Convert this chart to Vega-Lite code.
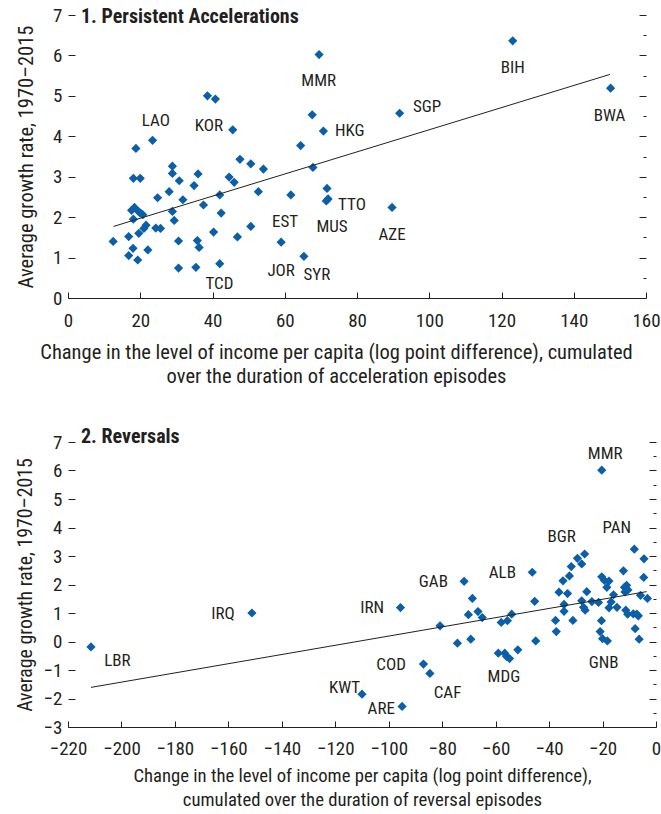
{
  "$schema": "https://vega.github.io/schema/vega-lite/v6.json",
  "background": "white",
  "padding": {"left": 15, "top": 6, "right": 2, "bottom": 2},
  "spacing": 40,
  "config": {
    "font": "Roboto Condensed, DejaVu Sans Condensed, Liberation Sans, sans-serif",
    "view": {"stroke": null},
    "axis": {
      "labelFont": "Roboto Condensed, DejaVu Sans Condensed, Liberation Sans, sans-serif",
      "titleFont": "Roboto Condensed, DejaVu Sans Condensed, Liberation Sans, sans-serif",
      "labelFontSize": 19,
      "titleFontSize": 18,
      "labelColor": "#231f20",
      "titleColor": "#231f20",
      "titleFontWeight": "normal",
      "tickColor": "#231f20",
      "domainColor": "#231f20",
      "grid": false
    },
    "title": {"font": "Roboto Condensed, DejaVu Sans Condensed, Liberation Sans, sans-serif", "fontSize": 20, "fontWeight": "bold", "color": "#231f20", "anchor": "start", "frame": "group"}
  },
  "datasets": {
    "acc": [
      {"x": 12.5, "y": 1.40}, {"x": 16.8, "y": 1.52}, {"x": 16.8, "y": 1.05}, {"x": 18.0, "y": 1.23}, {"x": 19.3, "y": 0.94},
      {"x": 18.8, "y": 3.70}, {"x": 18.1, "y": 2.96}, {"x": 20.0, "y": 2.96}, {"x": 23.4, "y": 3.90}, {"x": 17.6, "y": 2.17},
      {"x": 18.4, "y": 2.24}, {"x": 19.5, "y": 2.14}, {"x": 18.1, "y": 1.95}, {"x": 20.0, "y": 2.10}, {"x": 20.7, "y": 2.06},
      {"x": 19.6, "y": 1.60}, {"x": 21.0, "y": 1.72}, {"x": 21.6, "y": 1.80}, {"x": 22.1, "y": 1.19}, {"x": 24.3, "y": 1.73},
      {"x": 25.6, "y": 1.72}, {"x": 24.8, "y": 2.48}, {"x": 28.0, "y": 2.63}, {"x": 28.9, "y": 3.26}, {"x": 28.9, "y": 3.08},
      {"x": 28.9, "y": 2.14}, {"x": 29.4, "y": 1.92}, {"x": 30.8, "y": 2.90}, {"x": 30.6, "y": 1.41}, {"x": 30.6, "y": 0.74},
      {"x": 31.8, "y": 2.43}, {"x": 34.9, "y": 2.78}, {"x": 36.0, "y": 3.07}, {"x": 35.8, "y": 1.42}, {"x": 36.3, "y": 1.25},
      {"x": 35.4, "y": 0.76}, {"x": 37.5, "y": 2.30}, {"x": 38.6, "y": 5.00}, {"x": 40.8, "y": 4.92}, {"x": 40.3, "y": 1.63},
      {"x": 42.0, "y": 2.55}, {"x": 42.4, "y": 2.10}, {"x": 42.0, "y": 0.85}, {"x": 44.6, "y": 2.99}, {"x": 46.0, "y": 2.86},
      {"x": 45.6, "y": 4.16}, {"x": 46.9, "y": 1.51}, {"x": 47.6, "y": 3.43}, {"x": 50.6, "y": 3.32}, {"x": 50.6, "y": 1.77},
      {"x": 52.7, "y": 2.63}, {"x": 54.1, "y": 3.19}, {"x": 59.0, "y": 1.38}, {"x": 61.7, "y": 2.55}, {"x": 64.4, "y": 3.77},
      {"x": 65.3, "y": 1.03}, {"x": 67.6, "y": 4.53}, {"x": 67.8, "y": 3.23}, {"x": 69.5, "y": 6.02}, {"x": 70.7, "y": 4.13},
      {"x": 71.7, "y": 2.71}, {"x": 71.5, "y": 2.40}, {"x": 72.0, "y": 2.45}, {"x": 89.7, "y": 2.24}, {"x": 91.8, "y": 4.57},
      {"x": 123.1, "y": 6.36}, {"x": 150.2, "y": 5.19}
    ],
    "accLine": [{"x": 12.6, "y": 1.77}, {"x": 150.0, "y": 5.53}],
    "accLab": [
      {"label": "LAO", "x": 24.3, "y": 4.38}, {"label": "KOR", "x": 39.0, "y": 4.25}, {"label": "MMR", "x": 69.4, "y": 5.36},
      {"label": "HKG", "x": 78.0, "y": 4.14}, {"label": "SGP", "x": 99.4, "y": 4.73}, {"label": "BIH", "x": 123.1, "y": 5.68},
      {"label": "BWA", "x": 149.9, "y": 4.51}, {"label": "TTO", "x": 78.6, "y": 2.30}, {"label": "MUS", "x": 73.1, "y": 1.75},
      {"label": "AZE", "x": 89.7, "y": 1.55}, {"label": "EST", "x": 60.1, "y": 1.88}, {"label": "JOR", "x": 59.0, "y": 0.67},
      {"label": "SYR", "x": 68.9, "y": 0.57}, {"label": "TCD", "x": 41.9, "y": 0.35}
    ],
    "rev": [
      {"x": -211.4, "y": -0.19}, {"x": -151.2, "y": 1.00}, {"x": -95.6, "y": 1.19}, {"x": -110.0, "y": -1.85}, {"x": -95.0, "y": -2.28},
      {"x": -87.0, "y": -0.79}, {"x": -84.6, "y": -1.12}, {"x": -80.8, "y": 0.55}, {"x": -74.3, "y": -0.06}, {"x": -71.8, "y": 2.11},
      {"x": -68.7, "y": 1.51}, {"x": -70.2, "y": 0.94}, {"x": -69.3, "y": 0.08}, {"x": -66.6, "y": 1.05}, {"x": -65.0, "y": 0.84},
      {"x": -57.9, "y": 0.67}, {"x": -55.6, "y": 0.73}, {"x": -54.0, "y": 0.96}, {"x": -59.0, "y": -0.41}, {"x": -56.6, "y": -0.41},
      {"x": -55.9, "y": -0.53}, {"x": -54.8, "y": -0.60}, {"x": -51.7, "y": -0.29}, {"x": -46.3, "y": 2.43}, {"x": -45.4, "y": 1.41},
      {"x": -45.0, "y": 0.02}, {"x": -37.6, "y": 0.74}, {"x": -37.3, "y": 0.35}, {"x": -36.3, "y": 1.73}, {"x": -34.8, "y": 2.13},
      {"x": -34.4, "y": 1.30}, {"x": -34.4, "y": 1.06}, {"x": -33.1, "y": 1.68}, {"x": -32.4, "y": 2.30}, {"x": -31.7, "y": 2.63},
      {"x": -31.1, "y": 0.74}, {"x": -29.4, "y": 2.92}, {"x": -27.8, "y": 2.72}, {"x": -26.7, "y": 3.07}, {"x": -27.8, "y": 1.43},
      {"x": -27.1, "y": 1.20}, {"x": -26.5, "y": 1.10}, {"x": -25.9, "y": 1.75}, {"x": -24.0, "y": 1.40}, {"x": -21.5, "y": 1.37},
      {"x": -20.3, "y": 6.01}, {"x": -20.3, "y": 2.27}, {"x": -19.3, "y": 2.14}, {"x": -17.6, "y": 2.12}, {"x": -18.4, "y": 1.90},
      {"x": -20.4, "y": 0.73}, {"x": -20.9, "y": 0.35}, {"x": -20.0, "y": 0.10}, {"x": -18.2, "y": 0.02}, {"x": -16.8, "y": 1.39},
      {"x": -15.9, "y": 1.64}, {"x": -14.6, "y": 1.20}, {"x": -17.6, "y": 1.18}, {"x": -12.2, "y": 2.48}, {"x": -11.8, "y": 1.90},
      {"x": -11.0, "y": 1.97}, {"x": -10.5, "y": 1.81}, {"x": -11.6, "y": 1.74}, {"x": -11.3, "y": 1.10}, {"x": -10.6, "y": 0.96},
      {"x": -8.1, "y": 3.24}, {"x": -8.5, "y": 0.97}, {"x": -7.2, "y": 0.96}, {"x": -6.6, "y": 0.90}, {"x": -7.8, "y": 0.45},
      {"x": -6.3, "y": 0.08}, {"x": -4.5, "y": 2.90}, {"x": -4.6, "y": 2.25}, {"x": -5.8, "y": 1.62}, {"x": -3.2, "y": 1.51}
    ],
    "revLine": [{"x": -211.4, "y": -1.61}, {"x": -3.5, "y": 1.75}],
    "revLab": [
      {"label": "IRQ", "x": -162.0, "y": 0.98}, {"label": "LBR", "x": -201.5, "y": -0.68}, {"label": "IRN", "x": -106.2, "y": 1.16},
      {"label": "KWT", "x": -116.5, "y": -1.62}, {"label": "ARE", "x": -102.8, "y": -2.37}, {"label": "COD", "x": -99.1, "y": -0.83},
      {"label": "CAF", "x": -78.0, "y": -1.82}, {"label": "GAB", "x": -83.3, "y": 2.09}, {"label": "ALB", "x": -57.5, "y": 2.39},
      {"label": "MDG", "x": -56.9, "y": -1.24}, {"label": "BGR", "x": -35.3, "y": 3.65}, {"label": "MMR", "x": -19.0, "y": 6.58},
      {"label": "PAN", "x": -14.7, "y": 4.0}, {"label": "GNB", "x": -19.6, "y": -0.74}
    ]
  },
  "vconcat": [
    {
      "width": 578,
      "height": 283,
      "title": {"text": "1. Persistent Accelerations", "offset": -21, "dx": 13},
      "layer": [
        {
          "data": {"name": "acc"},
          "mark": {"type": "point", "shape": "diamond", "filled": true, "size": 85, "color": "#0b5fa8", "opacity": 1},
          "encoding": {
            "x": {
              "field": "x", "type": "quantitative",
              "scale": {"domain": [0, 160], "nice": false},
              "axis": {
                "title": ["Change in the level of income per capita (log point difference), cumulated", "over the duration of acceleration episodes"],
                "values": [0, 10, 20, 30, 40, 50, 60, 70, 80, 90, 100, 110, 120, 130, 140, 150, 160],
                "labelExpr": "datum.value % 20 === 0 ? datum.label : ''",
                "tickSize": -6, "labelPadding": 19, "titlePadding": 12, "titleLineHeight": 24, "titleFontSize": 20.5,
                "titleX": 268,
                "domainWidth": 1.2, "labelFlush": false
              }
            },
            "y": {
              "field": "y", "type": "quantitative",
              "scale": {"domain": [0, 7], "nice": false},
              "axis": {
                "title": "Average growth rate, 1970–2015",
                "titleFontSize": 20.5,
                "values": [0, 0.5, 1, 1.5, 2, 2.5, 3, 3.5, 4, 4.5, 5, 5.5, 6, 6.5, 7],
                "format": "d",
                "labelExpr": "datum.value % 1 === 0 ? datum.label : ''",
                "domain": false,
                "tickSize": {"condition": {"test": "datum.value % 1 !== 0", "value": -3}, "value": -7},
                "labelPadding": 13, "titlePadding": 16, "labelFlush": false
              }
            }
          }
        },
        {
          "data": {"name": "accLine"},
          "mark": {"type": "line", "color": "#231f20", "strokeWidth": 1},
          "encoding": {
            "x": {"field": "x", "type": "quantitative"},
            "y": {
              "field": "y", "type": "quantitative",
              "axis": {
                "orient": "right", "title": null, "labels": false, "domain": false,
                "values": [0, 0.5, 1, 1.5, 2, 2.5, 3, 3.5, 4, 4.5, 5, 5.5, 6, 6.5, 7],
                "tickSize": {"condition": {"test": "datum.value % 1 !== 0", "value": -3}, "value": -7}
              }
            }
          }
        },
        {
          "data": {"name": "accLab"},
          "mark": {"type": "text", "fontSize": 17, "color": "#231f20"},
          "encoding": {
            "x": {"field": "x", "type": "quantitative"},
            "y": {"field": "y", "type": "quantitative", "axis": null},
            "text": {"field": "label"}
          }
        }
      ],
      "resolve": {"axis": {"y": "independent"}}
    },
    {
      "width": 588,
      "height": 285,
      "title": {"text": "2. Reversals", "offset": -14, "dx": 13},
      "layer": [
        {
          "data": {"name": "rev"},
          "mark": {"type": "point", "shape": "diamond", "filled": true, "size": 85, "color": "#0b5fa8", "opacity": 1},
          "encoding": {
            "x": {
              "field": "x", "type": "quantitative",
              "scale": {"domain": [-220, 0], "nice": false},
              "axis": {
                "title": ["Change in the level of income per capita (log point difference),", "cumulated over the duration of reversal episodes"],
                "values": [-220, -210, -200, -190, -180, -170, -160, -150, -140, -130, -120, -110, -100, -90, -80, -70, -60, -50, -40, -30, -20, -10, 0],
                "labelExpr": "datum.value % 20 === 0 ? datum.label : ''",
                "tickSize": -6, "labelPadding": 18, "titlePadding": 8, "titleLineHeight": 24, "titleFontSize": 18.7,
                "domainWidth": 1.2, "labelFlush": false
              }
            },
            "y": {
              "field": "y", "type": "quantitative",
              "scale": {"domain": [-3, 7], "nice": false},
              "axis": {
                "title": "Average growth rate, 1970–2015",
                "titleFontSize": 19.8,
                "values": [-3, -2.5, -2, -1.5, -1, -0.5, 0, 0.5, 1, 1.5, 2, 2.5, 3, 3.5, 4, 4.5, 5, 5.5, 6, 6.5, 7],
                "format": "d",
                "labelExpr": "datum.value % 1 === 0 ? datum.label : ''",
                "domain": false,
                "tickSize": {"condition": {"test": "datum.value % 1 !== 0", "value": -3}, "value": -7},
                "labelPadding": 13, "titlePadding": 8, "labelFlush": false
              }
            }
          }
        },
        {
          "data": {"name": "revLine"},
          "mark": {"type": "line", "color": "#231f20", "strokeWidth": 1},
          "encoding": {
            "x": {"field": "x", "type": "quantitative"},
            "y": {
              "field": "y", "type": "quantitative",
              "axis": {
                "orient": "right", "title": null, "labels": false, "domain": false,
                "values": [-3, -2.5, -2, -1.5, -1, -0.5, 0, 0.5, 1, 1.5, 2, 2.5, 3, 3.5, 4, 4.5, 5, 5.5, 6, 6.5, 7],
                "tickSize": {"condition": {"test": "datum.value % 1 !== 0", "value": -3}, "value": -7}
              }
            }
          }
        },
        {
          "mark": {"type": "rule", "color": "#808080", "strokeWidth": 1.5},
          "encoding": {"y": {"datum": 0, "axis": null}}
        },
        {
          "data": {"name": "revLab"},
          "mark": {"type": "text", "fontSize": 17, "color": "#231f20"},
          "encoding": {
            "x": {"field": "x", "type": "quantitative"},
            "y": {"field": "y", "type": "quantitative", "axis": null},
            "text": {"field": "label"}
          }
        }
      ],
      "resolve": {"axis": {"y": "independent"}}
    }
  ]
}
